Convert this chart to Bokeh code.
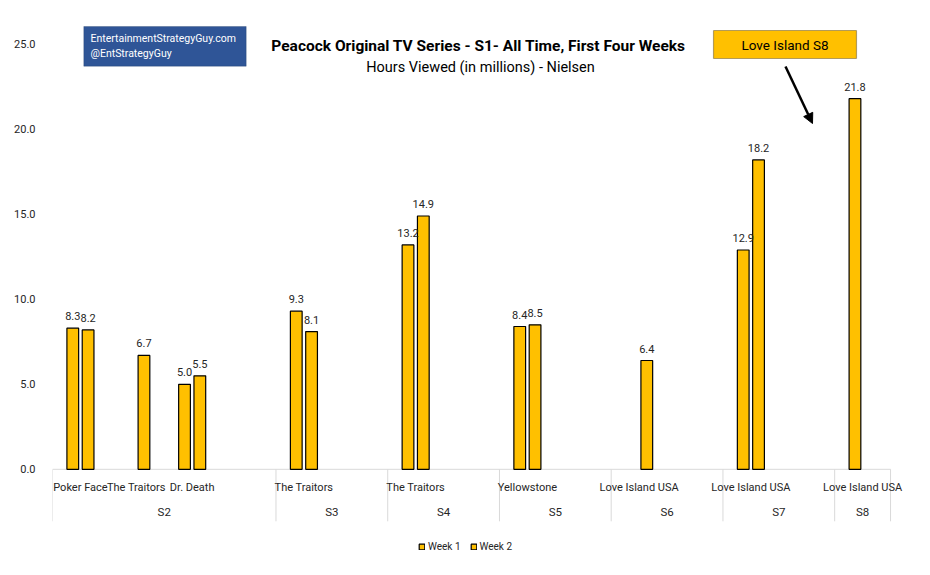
import numpy as np
from bokeh.plotting import figure
from bokeh.models import (ColumnDataSource, FixedTicker, NumeralTickFormatter, Legend, LegendItem,
                          BoxAnnotation, Label, Arrow, NormalHead, Range1d)
from bokeh.core.properties import value
from bokeh.embed import file_html
from bokeh.resources import INLINE

# ---------------- data ----------------
categories = ["Poker Face", "The Traitors", "Dr. Death", "", "The Traitors", "", "The Traitors", "",
              "Yellowstone", "", "Love Island USA", "", "Love Island USA", "", "Love Island USA"]
groups = ["S2", "S3", "S4", "S5", "S6", "S7", "S8"]
group_sizes = [4, 2, 2, 2, 2, 2, 1]
week1 = [8.3, None, 5.0, None, 9.3, None, 13.2, None, 8.4, None, None, None, 12.9, None, 21.8]
week2 = [8.2, 6.7, 5.5, None, 8.1, None, 14.9, None, 8.5, None, 6.4, None, 18.2, None, None]
y_ticks = [0, 5, 10, 15, 20, 25]
title = "Peacock Original TV Series - S1-  All Time, First Four Weeks"
subtitle = "Hours Viewed (in millions) - Nielsen"
credit = ["EntertainmentStrategyGuy.com", "@EntStrategyGuy"]
callout = "Love Island S8"
series_names = ["Week 1", "Week 2"]

# ---------------- style ----------------
FONT = "Roboto"
BAR = "#FFC000"
GRID = "#D9D9D9"
TXT = "#262626"
PX_X = 55.87   # pixels per category
PX_Y = 17.0    # pixels per unit
W, H = 914, 559
LEFT = 52
n = len(categories)

x_end = (W - LEFT - 2) / PX_X
y0_px = 468.8  # y=0 position in figure pixels from top
y_top = y0_px / PX_Y
y_bot = -(H - y0_px) / PX_Y

p = figure(width=W, height=H, output_backend="svg", toolbar_location=None,
           x_range=Range1d(0, x_end), y_range=Range1d(y_bot, y_top),
           x_axis_location=None, min_border_left=LEFT, min_border_right=2,
           min_border_top=0, min_border_bottom=0)
p.outline_line_color = None
p.grid.visible = False
p.background_fill_color = "white"
p.border_fill_color = "white"

ax = p.yaxis[0]
ax.ticker = FixedTicker(ticks=y_ticks)
ax.formatter = NumeralTickFormatter(format="0.0")
ax.axis_line_color = None
ax.major_tick_line_color = None
ax.minor_tick_line_color = None
ax.major_label_standoff = 11
ax.major_label_text_font = FONT
ax.major_label_text_font_size = "11px"
ax.major_label_text_color = TXT

OFF = 0.137
BW = 0.21

def series_source(vals, off):
    xs, ys, labs = [], [], []
    for i, v in enumerate(vals):
        if v is not None:
            xs.append(i + 0.5 + off)
            ys.append(v)
            labs.append(f"{v:.1f}")
    return ColumnDataSource(dict(x=xs, top=ys, lab=labs))

s1 = series_source(week1, -OFF)
s2 = series_source(week2, OFF)

# category axis (drawn through data coordinates)
bounds = np.concatenate([[0], np.cumsum(group_sizes)])
p.segment(x0=[0], x1=[n], y0=[0], y1=[0], line_color=GRID, line_width=1)
p.segment(x0=bounds, x1=bounds, y0=[0] * len(bounds), y1=[-52 / PX_Y] * len(bounds),
          line_color=GRID, line_width=1)
cat_src = ColumnDataSource(dict(x=[i + 0.5 for i, c in enumerate(categories) if c],
                                t=[c for c in categories if c]))
p.text(x="x", y=-18 / PX_Y, text="t", source=cat_src, text_align="center", text_baseline="middle",
       text_font=value(FONT), text_font_size="11px", text_color=TXT)
grp_src = ColumnDataSource(dict(x=[(bounds[k] + bounds[k + 1]) / 2 for k in range(len(groups))], t=groups))
p.text(x="x", y=-43 / PX_Y, text="t", source=grp_src, text_align="center", text_baseline="middle",
       text_font=value(FONT), text_font_size="11.5px", text_color=TXT)

r1 = p.vbar(x="x", top="top", width=BW, source=s1, fill_color=BAR, line_color="black", line_width=1.2)
r2 = p.vbar(x="x", top="top", width=BW, source=s2, fill_color=BAR, line_color="black", line_width=1.2)
for s in (s1, s2):
    p.text(x="x", y="top", text="lab", source=s, text_align="center", text_baseline="middle",
           y_offset=-12, text_font=value(FONT), text_font_size="11px", text_color=TXT)

# title & subtitle
def ydat(py):
    return (y0_px - py) / PX_Y

def xdat(px):
    return (px - LEFT) / PX_X

p.add_layout(Label(x=xdat(480), y=ydat(45.5), text=title, text_align="center", text_baseline="middle",
                   text_font=FONT, text_font_size="15.5px", text_font_style="bold", text_color="black"))
p.add_layout(Label(x=xdat(480), y=ydat(66.7), text=subtitle, text_align="center", text_baseline="middle",
                   text_font=FONT, text_font_size="14.5px", text_color="black"))

# credit box
p.add_layout(BoxAnnotation(left=xdat(83.3), right=xdat(245.7), top=ydat(26), bottom=ydat(65.7),
                           fill_color="#2F5597", fill_alpha=1, line_color="#1F3864", line_width=1))
for k, t in enumerate(credit):
    p.add_layout(Label(x=xdat(90), y=ydat(38 + 15 * k), text=t, text_align="left", text_baseline="middle",
                       text_font=FONT, text_font_size="10.5px", text_color="white"))

# callout box + arrow
p.add_layout(BoxAnnotation(left=xdat(713), right=xdat(856), top=ydat(30), bottom=ydat(58),
                           fill_color=BAR, fill_alpha=1, line_color="black", line_width=1.2))
p.add_layout(Label(x=xdat(784.5), y=ydat(44), text=callout, text_align="center", text_baseline="middle",
                   text_font=FONT, text_font_size="13.5px", text_color="black"))
p.add_layout(Arrow(x_start=xdat(785), y_start=ydat(66), x_end=xdat(812), y_end=ydat(123),
                   line_color="black", line_width=2.5,
                   end=NormalHead(size=10, fill_color="black", line_color="black")))

legend = Legend(items=[LegendItem(label=series_names[0], renderers=[r1]),
                       LegendItem(label=series_names[1], renderers=[r2])],
                orientation="horizontal", location=(418 - LEFT, 7),
                glyph_width=7, glyph_height=7, label_height=12, label_standoff=3, spacing=9,
                padding=0, margin=0, border_line_color=None, background_fill_alpha=0,
                label_text_font=FONT, label_text_font_size="10px", label_text_color=TXT)
p.add_layout(legend)

open("out.html", "w").write(file_html(p, INLINE))
